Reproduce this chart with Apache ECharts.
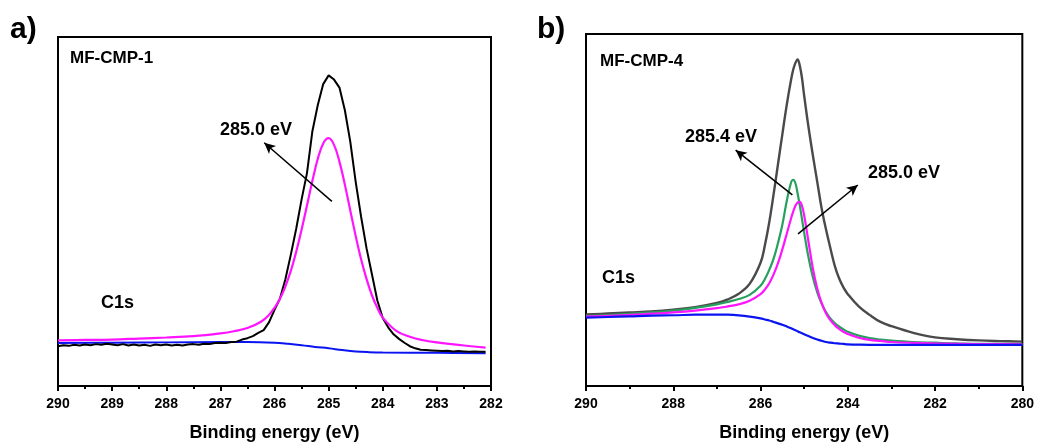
<!DOCTYPE html>
<html>
<head>
<meta charset="utf-8">
<script src="https://cdn.jsdelivr.net/npm/echarts@6/dist/echarts.min.js"></script>
<style>
html,body{margin:0;padding:0;background:#fff;}
#chart{width:1037px;height:447px;}
</style>
</head>
<body>
<div id="chart"></div>
<script>
// ---------- Panel a) MF-CMP-1 ----------
const aTicks = [290, 289, 288, 287, 286, 285, 284, 283, 282];
const aRawX = [290.0,289.9,289.8,289.7,289.6,289.5,289.4,289.3,289.2,289.1,289.0,288.9,288.8,288.7,288.6,288.5,288.4,288.3,288.2,288.1,288.0,287.9,287.8,287.7,287.6,287.5,287.4,287.3,287.2,287.1,287.0,286.9,286.8,286.7,286.6,286.5,286.4,286.3,286.2,286.1,286.0,285.9,285.8,285.7,285.6,285.5,285.4,285.3,285.2,285.1,285.0,284.9,284.8,284.7,284.6,284.5,284.4,284.3,284.2,284.1,284.0,283.9,283.8,283.7,283.6,283.5,283.4,283.3,283.2,283.1,283.0,282.9,282.8,282.7,282.6,282.5,282.4,282.3,282.2,282.1];
const aRaw = [11.4,11.7,11.5,11.8,11.6,11.9,11.7,12.0,11.8,12.1,11.9,11.7,12.0,11.6,11.9,11.6,11.8,11.5,11.9,11.7,11.9,11.6,11.8,11.6,11.9,12.0,11.8,12.1,12.0,12.3,12.4,12.3,12.6,12.7,13.3,13.7,14.3,15.2,16.0,18.3,21.8,25.0,30.5,37.5,45.0,53.4,61.0,73.0,80.5,86.5,89.0,87.8,85.5,79.0,70.0,58.5,48.5,39.5,32.0,24.5,19.5,16.8,14.8,13.5,12.4,11.4,10.8,10.4,10.3,10.2,10.1,10.0,10.1,9.9,10.0,9.9,9.8,9.9,9.8,9.8];
const aFitX = [290,289.5,289,288.5,288,287.5,287,286.75,286.5,286.25,286.1,286,285.9,285.8,285.7,285.6,285.5,285.4,285.3,285.2,285.1,285.0,284.9,284.8,284.7,284.6,284.5,284.4,284.3,284.2,284.1,284.0,283.75,283.5,283.25,283,282.5,282.1];
const aPeak285 = [13.1,13.2,13.3,13.6,13.9,14.3,15.1,15.7,16.6,18.4,20.4,22.4,25.0,28.5,32.9,38.4,44.8,51.7,58.8,65.1,69.5,71.0,69.1,64.3,57.7,50.3,43.0,36.3,30.7,26.0,22.4,19.6,15.8,14.1,13.1,12.5,11.6,11.0];
const aBaseX = [290,289,288,287,286.5,286,285.75,285.5,285.25,285,284.75,284.5,284.25,284,283,282.1];
const aBase = [12.3,12.4,12.5,12.6,12.6,12.4,12.1,11.7,11.2,10.8,10.3,9.9,9.7,9.6,9.5,9.4];
const aArrow = [[284.94, 52.9], [286.19, 69.7]];

// ---------- Panel b) MF-CMP-4 ----------
const bTicks = [290, 288, 286, 284, 282, 280];
const bX = [290,289.5,289,288.5,288,287.5,287,286.75,286.5,286.25,286.0,285.9,285.8,285.7,285.6,285.5,285.4,285.3,285.25,285.2,285.15,285.1,285.05,285.0,284.9,284.8,284.7,284.6,284.5,284.4,284.3,284.2,284.1,284.0,283.75,283.5,283.25,283.0,282.5,282.0,281.5,281.0,280.5,280.0];
const bEnvelope = [20.3,20.6,20.9,21.2,21.7,22.4,23.6,24.6,26.2,29.0,35.0,40.0,46.5,54.5,63.0,71.5,79.8,87.0,89.9,91.8,92.8,91.0,87.5,82.5,73.5,65.5,58.0,50.5,44.5,39.2,34.2,30.6,28.0,26.1,22.6,20.2,18.2,17.0,15.1,13.8,13.3,12.95,12.75,12.6];
const bPeak2854 = [19.9,20.15,20.5,20.9,21.4,22.2,23.2,23.9,24.7,25.9,28.5,30.4,33.0,36.2,40.6,45.8,52.5,57.8,58.6,57.6,54.7,51.3,47.5,43.6,36.5,30.9,26.6,23.4,21.0,19.2,17.9,16.9,16.1,15.4,14.3,13.6,13.2,12.9,12.5,12.3,12.1,12.0,12.0,11.9];
const bPeak2850 = [19.7,19.9,20.2,20.55,20.9,21.4,22.1,22.6,23.2,24.2,26.1,27.4,29.2,31.7,34.9,38.8,43.2,47.6,49.6,51.2,52.1,52.3,51.2,48.5,40.9,33.4,27.7,23.6,20.7,18.7,17.3,16.2,15.4,14.75,13.7,13.1,12.8,12.5,12.25,12.1,12.0,11.9,11.9,11.85];
const bBase = [19.4,19.6,19.8,20.0,20.1,20.25,20.3,20.25,20.05,19.7,19.2,18.9,18.6,18.2,17.8,17.4,16.9,16.4,16.1,15.85,15.55,15.25,15.0,14.7,14.2,13.65,13.2,12.85,12.5,12.3,12.15,12.05,11.95,11.85,11.75,11.7,11.7,11.7,11.7,11.7,11.7,11.7,11.7,11.7];
const bArrow1 = [[285.27, 54.3], [286.57, 67.0]];
const bArrow2 = [[285.14, 43.2], [283.77, 57.1]];

const FONT = '"Liberation Sans", Arial, sans-serif';
const zip = (xs, ys) => xs.map((x, i) => [x, ys[i]]);

function xAxisFor(gridIndex, min, max, interval) {
  return {
    type: 'value', gridIndex, min, max, interval, inverse: true,
    name: 'Binding energy (eV)', nameLocation: 'middle', nameGap: 38,
    nameTextStyle: { fontFamily: FONT, fontWeight: 'bold', fontSize: 18, color: '#000' },
    axisLine: { show: true, onZero: false, lineStyle: { color: '#000', width: 2 } },
    axisTick: { show: true, inside: false, length: 5, lineStyle: { color: '#000', width: 2 } },
    minorTick: { show: true, splitNumber: 2, length: 3, lineStyle: { color: '#000', width: 2 } },
    axisLabel: { fontFamily: FONT, fontWeight: 'bold', fontSize: 14, color: '#000', margin: 11 },
    splitLine: { show: false }, minorSplitLine: { show: false }
  };
}
function yAxisFor(gridIndex) {
  return { type: 'value', gridIndex, min: 0, max: 100, show: false };
}
function line(name, xi, yi, xs, ys, color, width, smooth, extra) {
  return Object.assign({
    name, type: 'line', xAxisIndex: xi, yAxisIndex: yi, data: zip(xs, ys),
    showSymbol: false, symbol: 'none', smooth: smooth,
    lineStyle: { color, width }, itemStyle: { color }, silent: true, z: 3
  }, extra || {});
}
function arrow(pairs) {
  return {
    silent: true, symbol: ['none', 'arrow'], symbolSize: [8, 11],
    label: { show: false },
    lineStyle: { color: '#000', width: 1.5, type: 'solid' },
    data: pairs.map(p => [{ coord: p[0] }, { coord: p[1] }])
  };
}
function txt(text, x, y, size) {
  return {
    type: 'text', x, y, silent: true,
    style: { text, fill: '#000', font: 'bold ' + size + 'px ' + FONT, verticalAlign: 'middle', align: 'left' }
  };
}

const chart = echarts.init(document.getElementById('chart'), null, { renderer: 'canvas' });
chart.setOption({
  animation: false,
  backgroundColor: '#fff',
  grid: [
    { left: 58, top: 37, width: 433, height: 350, show: true, borderColor: '#000', borderWidth: 2, backgroundColor: 'transparent' },
    { left: 586, top: 34, width: 437, height: 354, show: true, borderColor: '#000', borderWidth: 2, backgroundColor: 'transparent' }
  ],
  xAxis: [xAxisFor(0, aTicks[aTicks.length - 1], aTicks[0], 1), xAxisFor(1, bTicks[bTicks.length - 1], bTicks[0], 2)],
  yAxis: [yAxisFor(0), yAxisFor(1)],
  series: [
    line('Baseline a', 0, 0, aBaseX, aBase, '#0a14f0', 2, 0.4),
    line('Raw a', 0, 0, aRawX, aRaw, '#000000', 2, false),
    line('285.0 eV a', 0, 0, aFitX, aPeak285, '#ff14ff', 2.2, 0.4, { markLine: arrow([aArrow]) }),
    line('Envelope b', 1, 1, bX, bEnvelope, '#4a4a4a', 2.4, 0.4),
    line('285.4 eV b', 1, 1, bX, bPeak2854, '#27a05e', 2.2, 0.4, { markLine: arrow([bArrow1, bArrow2]) }),
    line('285.0 eV b', 1, 1, bX, bPeak2850, '#ff14ff', 2.2, 0.4),
    line('Baseline b', 1, 1, bX, bBase, '#0a14f0', 2.2, 0.4)
  ],
  graphic: [
    txt('a)', 10, 30, 30),
    txt('b)', 537, 30, 30),
    txt('MF-CMP-1', 70, 58, 17),
    txt('285.0 eV', 220, 130, 18),
    txt('C1s', 101, 303, 18),
    txt('MF-CMP-4', 600, 61, 17),
    txt('285.4 eV', 685, 137, 18),
    txt('285.0 eV', 868, 173, 18),
    txt('C1s', 602, 278, 18)
  ]
});
</script>
</body>
</html>
